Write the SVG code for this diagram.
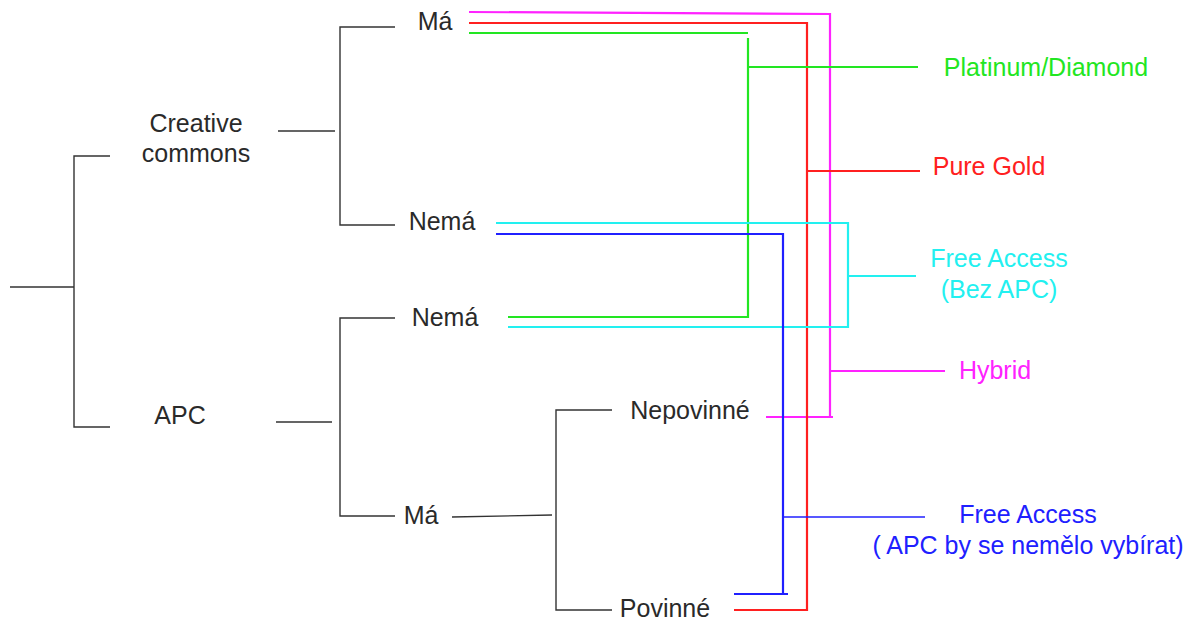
<svg xmlns="http://www.w3.org/2000/svg" width="1199" height="623" viewBox="0 0 1199 623">
<style>
text{font-family:"Liberation Sans",Arial,sans-serif;font-size:25px;text-anchor:middle}
.k{fill:#2a2a2a}
.tree{stroke:#333;stroke-width:1.4;fill:none}
.c{fill:none;stroke-width:2.2;stroke-linejoin:miter}
.g{stroke:#22e622}.r{stroke:#ff2020}.m{stroke:#ff22ff}.cy{stroke:#22f0f0}.b{stroke:#2020ff}
</style>
<rect width="1199" height="623" fill="#fff"/>
<g id="connectors">
<g class="tree">
<path d="M10 287H74M110 156H74V427H110"/>
<path d="M278 131H335M395 27H340V225H395"/>
<path d="M276 422H332M395 318H340V516H395"/>
<path d="M452 517L552 515M612 410H556V610H612"/>
</g>
<path class="c m" d="M469 12L830 14V417M766 417H833M830 371H945"/>
<path class="c r" d="M469 23H807V610H734M807 171H920"/>
<path class="c g" d="M469 33H748M748 38V317H508M748 67H918"/>
<path class="c cy" d="M496 223H848V327H508M848 276H916"/>
<path class="c b" d="M496 234H783V594H734M783 594H788"/>
<path class="b" stroke-width="1.4" d="M783 517H925"/>
</g>
<g id="n-creative"><text class="k" x="196" y="132">Creative</text><text class="k" x="196" y="162">commons</text></g>
<g id="n-apc"><text class="k" x="180" y="424">APC</text></g>
<g id="n-cc-ma"><text class="k" x="435" y="30">Má</text></g>
<g id="n-cc-nema"><text class="k" x="442" y="230">Nemá</text></g>
<g id="n-apc-nema"><text class="k" x="445" y="326">Nemá</text></g>
<g id="n-apc-ma"><text class="k" x="421" y="524">Má</text></g>
<g id="n-nepovinne"><text class="k" x="690" y="419">Nepovinné</text></g>
<g id="n-povinne"><text class="k" x="665" y="617">Povinné</text></g>
<g id="n-platinum"><text x="1046" y="76" fill="#22e622">Platinum/Diamond</text></g>
<g id="n-gold"><text x="989" y="175" fill="#ff2020">Pure Gold</text></g>
<g id="n-free1"><text x="999" y="267" fill="#22f0f0">Free Access</text><text x="999" y="298" fill="#22f0f0">(Bez APC)</text></g>
<g id="n-hybrid"><text x="995" y="379" fill="#ff22ff">Hybrid</text></g>
<g id="n-free2"><text x="1028" y="523" fill="#2020ff">Free Access</text><text x="1028" y="554" fill="#2020ff">( APC by se nemělo vybírat)</text></g>
</svg>
